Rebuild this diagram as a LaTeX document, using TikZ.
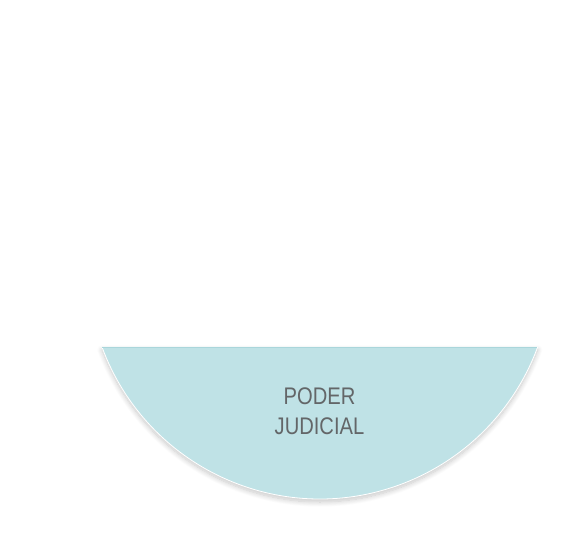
\documentclass[tikz,border=0pt]{standalone}
\usepackage{fontspec}
\setmainfont{Liberation Sans}[FakeStretch=0.84]
\usetikzlibrary{shadows.blur}
\definecolor{segfill}{HTML}{BFE2E6}
\definecolor{segtop}{HTML}{AAD6DB}
\definecolor{txtgray}{HTML}{636668}
\tikzset{
  segment/.style={fill=segfill, draw=white, line width=0.8pt,
    blur shadow={shadow xshift=0pt, shadow yshift=-3pt, shadow blur radius=5pt, shadow blur steps=12, shadow opacity=22}},
  labeltext/.style={text=txtgray, font=\fontsize{24}{30}\selectfont, align=center, inner sep=0pt}
}
\begin{document}
\begin{tikzpicture}[x=1pt,y=1pt]
\useasboundingbox (0,0) rectangle (569,551);
\path[segment] (102,204) arc[start angle=200.2, end angle=339.8, radius=232.1] -- cycle;
\coordinate (tl) at (102,204);
\coordinate (tr) at (537,204);
\draw[segtop, line width=0.8pt] (tl) -- (tr);
\node[labeltext] (lbl) at (319.5,139.5) {PODER\\JUDICIAL};
\end{tikzpicture}
\end{document}
